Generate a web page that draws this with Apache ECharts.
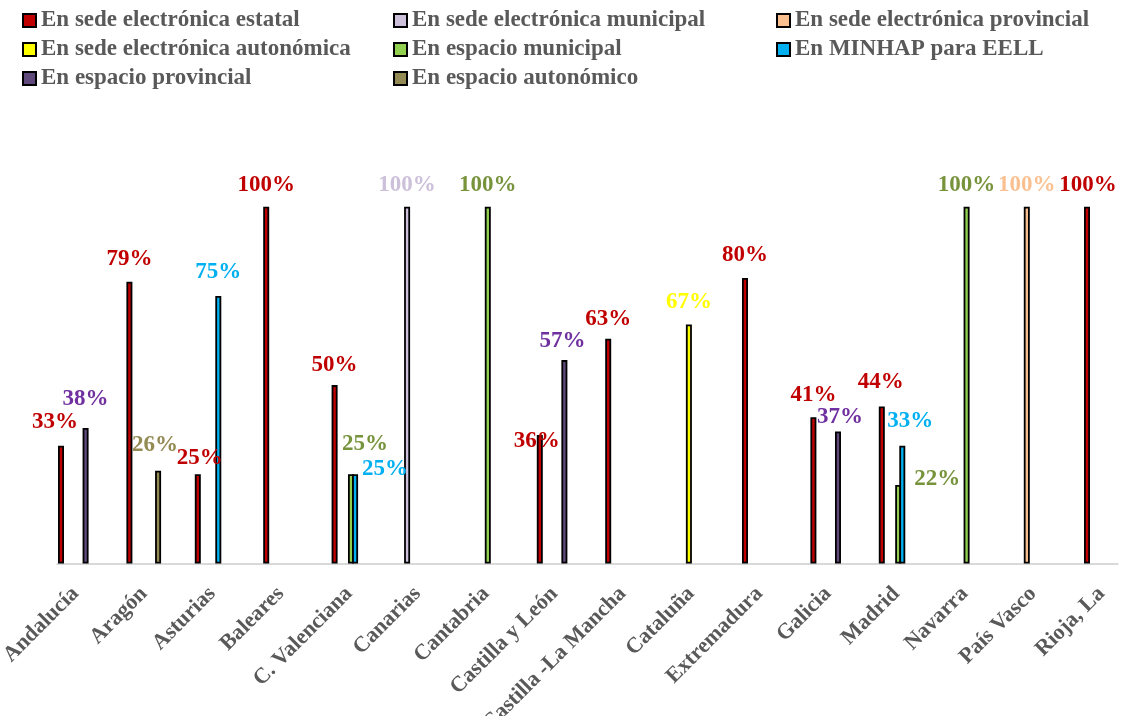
<!DOCTYPE html>
<html>
<head>
<meta charset="utf-8">
<script src="https://cdn.jsdelivr.net/npm/echarts@6/dist/echarts.min.js"></script>
<style>html,body{margin:0;padding:0;background:#fff}#c{width:1123px;height:716px}</style>
</head>
<body>
<div id="c"></div>
<script>
// ---- data ----
const categories = ['Andalucía','Aragón','Asturias','Baleares','C. Valenciana','Canarias','Cantabria','Castilla y León','Castilla -La Mancha','Cataluña','Extremadura','Galicia','Madrid','Navarra','País Vasco','Rioja, La'];
const seriesNames = ['En sede electrónica estatal','En sede electrónica municipal','En sede electrónica provincial','En sede electrónica autonómica','En espacio municipal','En MINHAP para EELL','En espacio provincial','En espacio autonómico'];
const sedeEstatal      = [33, 79, 25, 100, 50, null, null, 36, 63, null, 80, 41, 44, null, null, 100];
const sedeMunicipal    = [null, null, null, null, null, 100, null, null, null, null, null, null, null, null, null, null];
const sedeProvincial   = [null, null, null, null, null, null, null, null, null, null, null, null, null, null, 100, null];
const sedeAutonomica   = [null, null, null, null, null, null, null, null, null, 67, null, null, null, null, null, null];
const espacioMunicipal = [null, null, null, null, 25, null, 100, null, null, null, null, null, 22, 100, null, null];
const minhapEELL       = [null, null, 75, null, 25, null, null, null, null, null, null, null, 33, null, null, null];
const espacioProvincial= [38, null, null, null, null, null, null, 57, null, null, null, 37, null, null, null, null];
const espacioAutonomico= [null, 26, null, null, null, null, null, null, null, null, null, null, null, null, null, null];
const seriesValues = [sedeEstatal, sedeMunicipal, sedeProvincial, sedeAutonomica, espacioMunicipal, minhapEELL, espacioProvincial, espacioAutonomico];

// ---- styles ----
const barColors   = ['#C00000','#CCC0DA','#FAC090','#FFFF00','#92D050','#00B0F0','#604A7B','#948A54'];
const labelColors = ['#C00000','#CCC0DA','#FAC090','#FFFF00','#77933C','#00B0F0','#7030A0','#948A54'];
// label placement tweaks: [dx, px above bar top to label centre]
const labelTweaks = {
  0: {0: [-6, 24], 1: [0, 23], 2: [2, 16], 4: [0, 20.5], 7: [-3, -6], 8: [0, 20], 10: [0, 23], 12: [-1, 24], 15: [1, 22]},
  4: {4: [14, 30], 12: [39, 5.5]},
  5: {2: [0, 24], 4: [30, 5], 12: [8, 25]},
  6: {0: [0, 29], 7: [-2, 19], 11: [2, 14]},
  7: {1: [-3, 26]}
};
const FONT = "'Liberation Serif','Times New Roman',serif";
const PAD_SLOTS = 7; // empty slots that shift the bar cluster inside each category

const barBase = {type: 'bar', xAxisIndex: 0, yAxisIndex: 0, barWidth: 6, barGap: '-31.7%'};
const padSeries = Array.from({length: PAD_SLOTS}, (_, i) => Object.assign({}, barBase, {
  name: '_pad' + i, data: categories.map(() => null), silent: true
}));
const series = padSeries.concat(seriesValues.map((vals, si) => Object.assign({}, barBase, {
  name: seriesNames[si],
  itemStyle: {color: barColors[si], borderColor: '#000', borderWidth: 1.8},
  label: {
    show: true, position: 'top', distance: 0,
    formatter: '{c}%', color: labelColors[si],
    fontFamily: FONT, fontWeight: 'bold', fontSize: 23
  },
  data: vals.map((v, ci) => {
    if (v == null) return null;
    const t = (labelTweaks[si] && labelTweaks[si][ci]) || [0, 22];
    return {value: v, label: {offset: [t[0], -(t[1] - 11.5)]}};
  })
})));

const legendCols = [[0, 3, 6], [1, 4, 7], [2, 5]];
const legendLefts = [22, 393, 776];
const legends = legendCols.map((col, i) => ({
  orient: 'vertical', left: legendLefts[i], top: 9, padding: 0,
  itemWidth: 13, itemHeight: 13, itemGap: 6,
  icon: 'rect',
  itemStyle: {borderColor: '#000', borderWidth: 2},
  textStyle: {color: '#595959', fontFamily: FONT, fontWeight: 'bold', fontSize: 23, lineHeight: 22},
  data: col.map(k => seriesNames[k])
}));

const gridBase = {top: 206.7, bottom: 152.5, containLabel: false, outerBoundsMode: 'none'};
const chart = echarts.init(document.getElementById('c'));
chart.setOption({
  animation: false,
  backgroundColor: '#fff',
  legend: legends,
  grid: [
    Object.assign({left: 26.8, width: 1094.4}, gridBase),
    Object.assign({left: 57.3, width: 1060.4}, gridBase),
    Object.assign({left: 75.5, width: 1026}, gridBase)
  ],
  xAxis: [
    {type: 'category', gridIndex: 0, data: categories, show: false},
    {type: 'category', gridIndex: 1, data: categories, axisLine: {show: true, lineStyle: {color: '#D9D9D9', width: 2}}, axisTick: {show: false}, axisLabel: {show: false}},
    {type: 'category', gridIndex: 2, data: categories, boundaryGap: false, axisLine: {show: false}, axisTick: {show: false},
     axisLabel: {interval: 0, rotate: 45, margin: 27, color: '#595959', fontFamily: FONT, fontWeight: 'bold', fontSize: 22}}
  ],
  yAxis: [
    {type: 'value', gridIndex: 0, min: 0, max: 100, show: false},
    {type: 'value', gridIndex: 1, min: 0, max: 100, show: false},
    {type: 'value', gridIndex: 2, min: 0, max: 100, show: false}
  ],
  series: series
});
</script>
</body>
</html>
